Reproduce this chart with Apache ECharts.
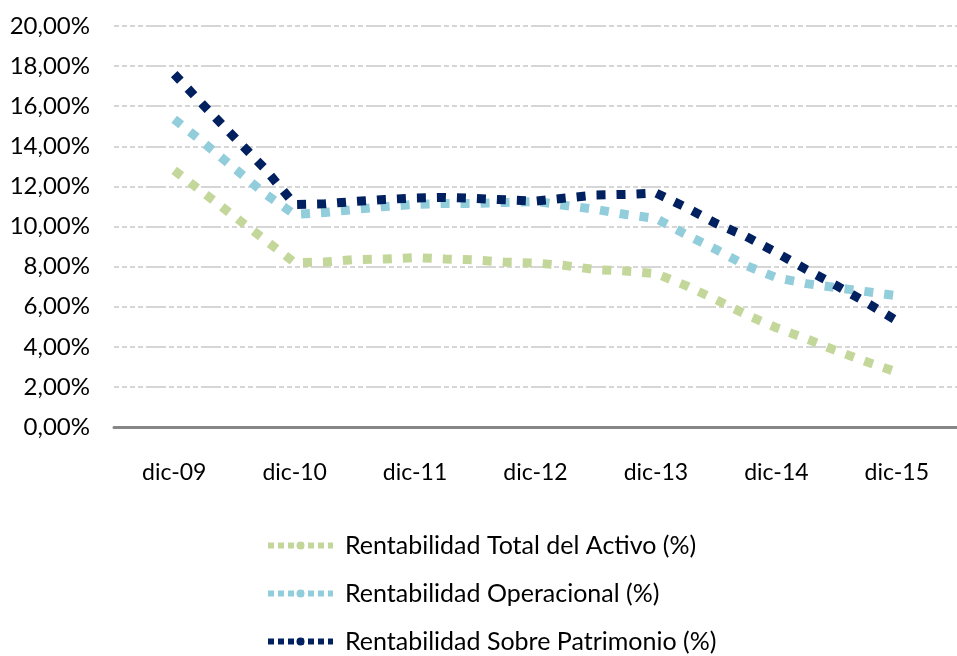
<!DOCTYPE html>
<html>
<head>
<meta charset="utf-8">
<title>Rentabilidad</title>
<script src="https://cdn.jsdelivr.net/npm/echarts@6/dist/echarts.min.js"></script>
<style>
  html, body { margin: 0; padding: 0; background: #fff; }
  #chart { width: 957px; height: 656px; }
</style>
</head>
<body>
<div id="chart"></div>
<script>
// etiquetas anuales del eje x
const years = ['dic-09', 'dic-10', 'dic-11', 'dic-12', 'dic-13', 'dic-14', 'dic-15'];

// datos trimestrales, mes 0 = dic-09
const months = [0, 3, 6, 9, 12, 15, 18, 21, 24, 27, 30, 33, 36, 39, 42, 45, 48, 51, 54, 57, 60, 63, 66, 69, 72];

const totalActivo = [12.8, 11.65, 10.5, 9.35, 8.2, 8.23, 8.35, 8.38, 8.45, 8.38, 8.33, 8.22, 8.18, 8.05, 7.85, 7.78, 7.65,
  7.05, 6.35, 5.6, 4.95, 4.4, 3.8, 3.25, 2.74];
const operacional = [15.35, 14.15, 12.9, 11.65, 10.6, 10.7, 10.85, 11.0, 11.1, 11.15, 11.15, 11.2, 11.25, 11.05, 10.85, 10.6, 10.4,
  9.6, 8.85, 8.05, 7.45, 7.15, 6.95, 6.75, 6.55];
const patrimonio = [17.6, 16.0, 14.45, 12.9, 11.1, 11.13, 11.25, 11.35, 11.42, 11.45, 11.4, 11.33, 11.27, 11.42, 11.57, 11.6, 11.67,
  10.95, 10.15, 9.5, 8.7, 7.85, 7.05, 6.2, 5.3];

const names = ['Rentabilidad Total del Activo (%)', 'Rentabilidad Operacional (%)', 'Rentabilidad Sobre Patrimonio (%)'];
const colors = ['#c4d79b', '#92cddc', '#002060'];
const values = [totalActivo, operacional, patrimonio];

const chart = echarts.init(document.getElementById('chart'));

const series = values.map((vals, i) => ({
  name: names[i],
  type: 'line',
  xAxisIndex: 1,
  symbol: 'none',
  data: months.map((m, k) => [m, vals[k]]),
  lineStyle: { color: colors[i], width: 9, type: [9, 11], cap: 'butt' },
  itemStyle: { color: colors[i] },
  z: 2 + i
}));

chart.setOption({
  animation: false,
  textStyle: { fontFamily: 'Lato' },
  grid: { left: 114, right: -8, top: 26, bottom: 229 },
  legend: {
    orient: 'vertical',
    left: 260,
    top: 528,
    height: 160,
    itemWidth: 65,
    itemHeight: 10,
    itemGap: 23,
    data: names,
    lineStyle: { width: 6, type: [6, 4], cap: 'butt' },
    textStyle: { fontFamily: 'Lato', fontSize: 25, color: '#000', lineHeight: 24, padding: [0, 0, 0, 7] }
  },
  xAxis: [{
    type: 'category',
    data: years,
    boundaryGap: true,
    axisLine: { lineStyle: { color: '#868686', width: 3 } },
    axisTick: { length: 9, lineStyle: { color: '#868686', width: 2 } },
    axisLabel: { fontFamily: 'Lato', fontSize: 23, color: '#000', margin: 34 },
    splitLine: { show: false }
  }, {
    type: 'value',
    min: -6,
    max: 78,
    show: false
  }],
  yAxis: {
    type: 'value',
    min: 0,
    max: 20,
    interval: 2,
    axisLine: { show: false },
    axisTick: { show: false },
    axisLabel: {
      fontFamily: 'Lato', fontSize: 24, color: '#000', margin: 24,
      formatter: v => v.toFixed(2).replace('.', ',') + '%'
    },
    splitLine: { lineStyle: { color: '#d6d6d6', width: 2, type: [5, 3, 5, 3, 5, 3, 5, 3, 20, 3] } }
  },
  series: series
});
</script>
</body>
</html>
